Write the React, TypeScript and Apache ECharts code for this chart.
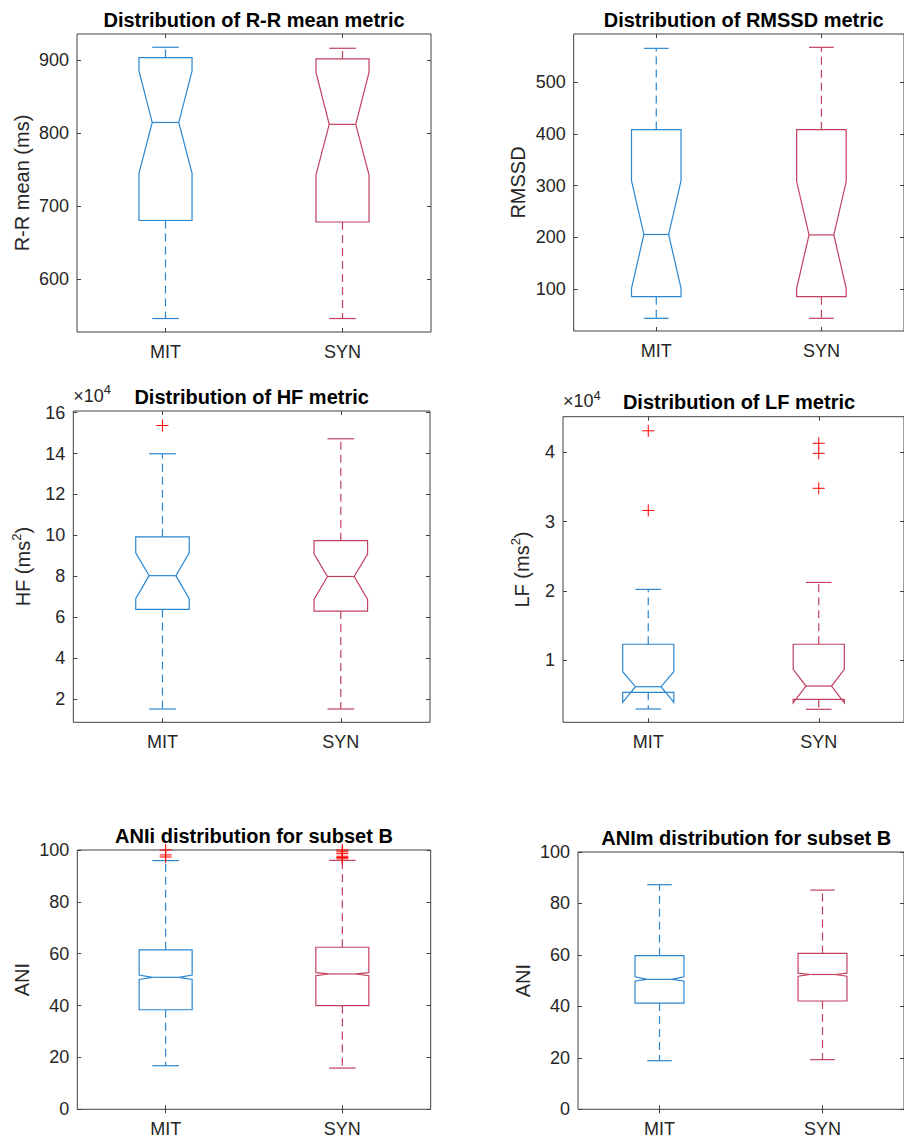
import React, { useEffect, useRef } from 'react';
import * as echarts from 'echarts';

// Categories shared by every panel
const categories = ['MIT', 'SYN'];

// Box statistics: [whiskerLow, q1, notchLow, median, notchHigh, q3, whiskerHigh]
const rrMeanMIT = [545.5, 680, 744.8, 814.6, 885.3, 903.7, 917.8];
const rrMeanSYN = [545.5, 678, 742.5, 812, 883.6, 901.8, 916.4];
const rmssdMIT = [44, 85.7, 102, 205.8, 309.7, 408.3, 565];
const rmssdSYN = [44, 85.7, 102, 205, 308, 408, 567];
const hfMIT = [15100, 63800, 69000, 80300, 91500, 99300, 139900];
const hfSYN = [15100, 63000, 68700, 79900, 90900, 97400, 147200];
const lfMIT = [2920, 5330, 3890, 6140, 8300, 12270, 20200];
const lfSYN = [2880, 4300, 3800, 6240, 8660, 12270, 21200];
const aniiMIT = [16.8, 38.4, 50.1, 50.9, 51.8, 61.5, 95.9];
const aniiSYN = [15.9, 40.0, 51.5, 52.2, 52.7, 62.5, 96.0];
const animMIT = [18.9, 41.3, 49.9, 50.5, 51.5, 59.7, 87.3];
const animSYN = [19.3, 42.1, 51.7, 52.4, 52.9, 60.6, 85.2];

// Outliers
const hfOutMIT = [153700];
const hfOutSYN: number[] = [];
const lfOutMIT = [43100, 31600];
const lfOutSYN = [41300, 39850, 34800];
const aniiOutMIT = [100, 98.1, 97.3];
const aniiOutSYN = [100, 99.3, 98.6, 97.6, 97.1, 96.6];
const noOut: number[] = [];

// Axis ticks
const rrTicks = [600, 700, 800, 900];
const rmssdTicks = [100, 200, 300, 400, 500];
const hfTicks = [20000, 40000, 60000, 80000, 100000, 120000, 140000, 160000];
const lfTicks = [10000, 20000, 30000, 40000];
const aniTicks = [0, 20, 40, 60, 80, 100];

const COLORS = ['#2b87d1', '#c1415f'];
const AXIS = '#404040';
const TXT = '#262626';
const FONT = 'Arial, "Liberation Sans", Helvetica, sans-serif';

type Panel = {
  title: string;
  yName: string;
  exp: boolean;
  min: number;
  max: number;
  ticks: number[];
  scale: number;
  boxes: number[][];
  outliers: number[][];
  grid: { left: number; top: number; width: number; height: number };
  nameGap: number;
};

const panels: Panel[] = [
  { title: 'Distribution of R-R mean metric', yName: 'R-R mean (ms)', exp: false, min: 527, max: 936, ticks: rrTicks, scale: 1,
    boxes: [rrMeanMIT, rrMeanSYN], outliers: [noOut, noOut], grid: { left: 77, top: 34, width: 354, height: 298 }, nameGap: 45 },
  { title: 'Distribution of RMSSD metric', yName: 'RMSSD', exp: false, min: 19.5, max: 592.7, ticks: rmssdTicks, scale: 1,
    boxes: [rmssdMIT, rmssdSYN], outliers: [noOut, noOut], grid: { left: 573.7, top: 34, width: 340, height: 297 }, nameGap: 46 },
  { title: 'Distribution of HF metric', yName: 'HF (ms{sup|2})', exp: true, min: 8600, max: 160800, ticks: hfTicks, scale: 10000,
    boxes: [hfMIT, hfSYN], outliers: [hfOutMIT, hfOutSYN], grid: { left: 73.3, top: 411, width: 356.7, height: 311.3 }, nameGap: 38 },
  { title: 'Distribution of LF metric', yName: 'LF (ms{sup|2})', exp: true, min: 1000, max: 45140, ticks: lfTicks, scale: 10000,
    boxes: [lfMIT, lfSYN], outliers: [lfOutMIT, lfOutSYN], grid: { left: 563, top: 416.7, width: 352, height: 305.6 }, nameGap: 29 },
  { title: 'ANIi distribution for subset B', yName: 'ANI', exp: false, min: 0, max: 100, ticks: aniTicks, scale: 1,
    boxes: [aniiMIT, aniiSYN], outliers: [aniiOutMIT, aniiOutSYN], grid: { left: 77.3, top: 850, width: 353.4, height: 259.3 }, nameGap: 45 },
  { title: 'ANIm distribution for subset B', yName: 'ANI', exp: false, min: 0, max: 100, ticks: aniTicks, scale: 1,
    boxes: [animMIT, animSYN], outliers: [noOut, noOut], grid: { left: 578, top: 852, width: 336.5, height: 257.3 }, nameGap: 45 },
];

const renderBox = (params: any, api: any) => {
  const ci = api.value(0);
  const [wLo, q1, nLo, med, nHi, q3, wHi] = [1, 2, 3, 4, 5, 6, 7].map((i) => api.value(i));
  const cx = api.coord([ci, med])[0];
  const y = (v: number) => api.coord([ci, v])[1];
  const band = api.size([1, 0])[0];
  const hw = band * 0.15;
  const hn = hw / 2;
  const color = COLORS[ci];
  const solid = { stroke: color, lineWidth: 1.2, fill: 'none' };
  const dashed = { stroke: color, lineWidth: 1.2, fill: 'none', lineDash: [8, 5] };
  return {
    type: 'group',
    children: [
      { type: 'line', shape: { x1: cx, y1: y(q3), x2: cx, y2: y(wHi) }, style: dashed },
      { type: 'line', shape: { x1: cx, y1: y(q1), x2: cx, y2: y(wLo) }, style: dashed },
      { type: 'line', shape: { x1: cx - hn, y1: y(wHi), x2: cx + hn, y2: y(wHi) }, style: solid },
      { type: 'line', shape: { x1: cx - hn, y1: y(wLo), x2: cx + hn, y2: y(wLo) }, style: solid },
      {
        type: 'polygon',
        shape: {
          points: [
            [cx - hw, y(q3)], [cx - hw, y(nHi)], [cx - hn, y(med)], [cx - hw, y(nLo)], [cx - hw, y(q1)],
            [cx + hw, y(q1)], [cx + hw, y(nLo)], [cx + hn, y(med)], [cx + hw, y(nHi)], [cx + hw, y(q3)],
          ],
        },
        style: solid,
      },
      { type: 'line', shape: { x1: cx - hn, y1: y(med), x2: cx + hn, y2: y(med) }, style: solid },
    ],
  };
};

const renderOutlier = (params: any, api: any) => {
  const p = api.coord([api.value(0), api.value(1)]);
  const s = 6;
  const st = { stroke: '#ff0000', lineWidth: 1 };
  return {
    type: 'group',
    children: [
      { type: 'line', shape: { x1: p[0] - s, y1: p[1], x2: p[0] + s, y2: p[1] }, style: st },
      { type: 'line', shape: { x1: p[0], y1: p[1] - s, x2: p[0], y2: p[1] + s }, style: st },
    ],
  };
};

const buildOption = () => {
  const grid: any[] = [];
  const xAxis: any[] = [];
  const yAxis: any[] = [];
  const series: any[] = [];
  const title: any[] = [];
  const graphic: any[] = [];
  const supRich = { sup: { fontSize: 13, fontFamily: FONT, color: TXT, padding: [0, 0, 12, 0] } };

  panels.forEach((p, i) => {
    grid.push({ ...p.grid, show: true, borderColor: AXIS, borderWidth: 1, backgroundColor: 'transparent', containLabel: false });
    xAxis.push({
      type: 'category', gridIndex: i, data: categories, position: 'bottom',
      axisLine: { show: false },
      axisTick: { show: true, inside: true, alignWithLabel: true, length: 4, lineStyle: { color: AXIS } },
      axisLabel: { fontSize: 18, fontFamily: FONT, color: TXT, margin: 11 },
      splitLine: { show: false },
    });
    xAxis.push({
      type: 'category', gridIndex: i, data: categories, position: 'top',
      axisLine: { show: false },
      axisTick: { show: true, inside: true, alignWithLabel: true, length: 4, lineStyle: { color: AXIS } },
      axisLabel: { show: false },
      splitLine: { show: false },
    });
    yAxis.push({
      type: 'value', gridIndex: i, min: p.min, max: p.max, position: 'left',
      name: p.yName, nameLocation: 'middle', nameRotate: 90, nameGap: p.nameGap,
      nameTextStyle: { fontSize: 20, fontFamily: FONT, color: TXT, rich: supRich },
      axisLine: { show: false },
      axisTick: { show: true, inside: true, length: 4, customValues: p.ticks, lineStyle: { color: AXIS } },
      axisLabel: {
        fontSize: 18, fontFamily: FONT, color: TXT, margin: 8, customValues: p.ticks,
        formatter: (v: number) => String(Math.round((v / p.scale) * 100) / 100),
      },
      splitLine: { show: false },
    });
    yAxis.push({
      type: 'value', gridIndex: i, min: p.min, max: p.max, position: 'right',
      axisLine: { show: false },
      axisTick: { show: true, inside: true, length: 4, customValues: p.ticks, lineStyle: { color: AXIS } },
      axisLabel: { show: false, customValues: p.ticks },
      splitLine: { show: false },
    });
    series.push({
      type: 'custom', xAxisIndex: 2 * i, yAxisIndex: 2 * i,
      renderItem: renderBox,
      encode: { x: 0, y: [1, 2, 3, 4, 5, 6, 7] },
      data: p.boxes.map((b, ci) => [ci, ...b]),
      clip: false,
      silent: true,
    });
    const outData: number[][] = [];
    p.outliers.forEach((arr, ci) => arr.forEach((v) => outData.push([ci, v])));
    series.push({
      type: 'custom', xAxisIndex: 2 * i, yAxisIndex: 2 * i,
      renderItem: renderOutlier,
      encode: { x: 0, y: 1 },
      data: outData,
      clip: false,
      silent: true,
    });
    title.push({
      text: p.title,
      left: p.grid.left + p.grid.width / 2,
      top: p.grid.top - 14.5,
      textAlign: 'center',
      textVerticalAlign: 'middle',
      padding: 0,
      textStyle: { fontSize: 20, fontWeight: 'bold', fontFamily: FONT, color: '#000' },
    });
    if (p.exp) {
      graphic.push({
        type: 'text',
        x: p.grid.left,
        y: p.grid.top - 3,
        style: {
          text: '{b|×10}{sup|4}',
          fontSize: 18,
          fontFamily: FONT,
          fill: TXT,
          verticalAlign: 'bottom',
          align: 'left',
          rich: {
            b: { fontSize: 18, fontFamily: FONT, fill: TXT },
            sup: { fontSize: 13, fontFamily: FONT, fill: TXT, padding: [0, 0, 12, 0] },
          },
        },
      });
    }
  });

  return { animation: false, backgroundColor: '#ffffff', grid, xAxis, yAxis, series, title, graphic };
};

export default function App() {
  const ref = useRef<HTMLDivElement>(null);
  useEffect(() => {
    if (!ref.current) return;
    const chart = echarts.init(ref.current, undefined, { renderer: 'svg' });
    chart.setOption(buildOption() as any);
    return () => chart.dispose();
  }, []);
  return (
    <div
      ref={ref}
      style={{ position: 'fixed', left: 0, top: 0, width: 904, height: 1140, background: '#fff' }}
    />
  );
}
